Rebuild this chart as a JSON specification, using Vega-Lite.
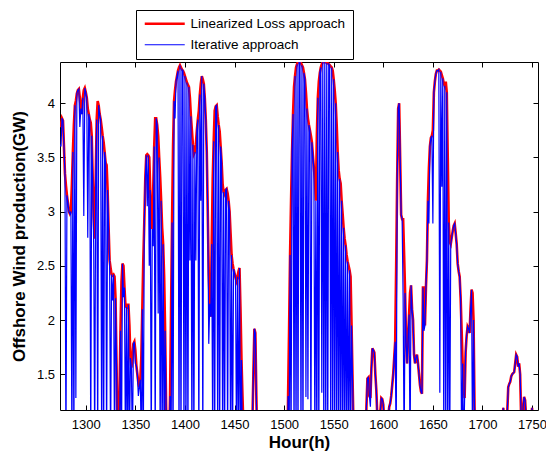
{
"$schema": "https://vega.github.io/schema/vega-lite/v6.json",
"width": 478, "height": 348,
"autosize": "none",
"padding": {"left": 60, "top": 62, "right": 8, "bottom": 41},
"background": "white",
"config": {
 "font": "Liberation Sans",
 "view": {"stroke": "black", "strokeWidth": 1},
 "axis": {"domain": false, "grid": false, "ticks": true, "tickColor": "black", "tickSize": -5, "tickWidth": 1, "labelColor": "black", "labelFontSize": 13, "labelFont": "Liberation Sans", "titleColor": "black", "titleFont": "Liberation Sans", "titleFontSize": 17, "titleFontWeight": "bold"}
},
"data": {"values": [
{"h":1274,"r":3.78,"b":3.62},{"h":1275,"r":3.80,"b":3.60},{"h":1276,"r":3.86,"b":3.86},{"h":1277,"r":3.84,"b":3.84},{"h":1278,"r":3.60,"b":3.60},{"h":1279,"r":3.35,"b":3.35},{"h":1280,"r":3.24,"b":0.8},{"h":1281,"r":3.15,"b":3.15},{"h":1282,"r":3.08,"b":3.08},{"h":1283,"r":3.00,"b":3.00},{"h":1284,"r":2.98,"b":2.98},{"h":1285,"r":3.00,"b":3.00},{"h":1286,"r":3.25,"b":0.8},{"h":1287,"r":3.55,"b":3.55},{"h":1288,"r":3.80,"b":0.8},{"h":1289,"r":3.98,"b":3.98},{"h":1290,"r":4.02,"b":1.28},{"h":1291,"r":4.09,"b":4.09},{"h":1292,"r":4.12,"b":4.12},{"h":1293,"r":4.13,"b":4.13},{"h":1294,"r":4.05,"b":3.78},{"h":1295,"r":3.95,"b":3.95},{"h":1296,"r":3.90,"b":3.90},{"h":1297,"r":4.05,"b":4.05},{"h":1298,"r":4.12,"b":2.96},{"h":1299,"r":4.14,"b":4.14},
{"h":1300,"r":4.10,"b":4.10},{"h":1301,"r":4.05,"b":4.05},{"h":1302,"r":3.95,"b":2.76},{"h":1303,"r":3.90,"b":3.90},{"h":1304,"r":3.85,"b":3.85},{"h":1305,"r":3.82,"b":0.8},{"h":1306,"r":3.70,"b":3.70},{"h":1307,"r":3.30,"b":3.30},{"h":1308,"r":2.95,"b":2.67},{"h":1309,"r":2.75,"b":0.8},{"h":1310,"r":3.30,"b":3.30},{"h":1311,"r":3.85,"b":3.85},{"h":1312,"r":4.02,"b":0.8},{"h":1313,"r":3.98,"b":3.98},{"h":1314,"r":3.90,"b":3.90},{"h":1315,"r":3.85,"b":3.85},{"h":1316,"r":3.78,"b":0.8},{"h":1317,"r":3.70,"b":3.70},{"h":1318,"r":3.64,"b":0.8},{"h":1319,"r":3.55,"b":3.55},{"h":1320,"r":3.45,"b":3.45},{"h":1321,"r":3.43,"b":0.8},{"h":1322,"r":3.20,"b":3.20},{"h":1323,"r":2.85,"b":2.85},{"h":1324,"r":2.55,"b":2.55},{"h":1325,"r":2.48,"b":0.8},{"h":1326,"r":2.42,"b":2.42},{"h":1327,"r":2.41,"b":2.18},{"h":1328,"r":2.42,"b":2.42},{"h":1329,"r":2.40,"b":0.8},
{"h":1330,"r":2.20,"b":2.20},{"h":1331,"r":1.60,"b":1.60},{"h":1332,"r":1.00,"b":0.8},{"h":1333,"r":0.90,"b":0.9},{"h":1334,"r":1.30,"b":0.8},{"h":1335,"r":1.90,"b":1.90},{"h":1336,"r":2.35,"b":0.8},{"h":1337,"r":2.52,"b":2.52},{"h":1338,"r":2.50,"b":2.21},{"h":1339,"r":2.30,"b":2.30},{"h":1340,"r":2.13,"b":0.8},{"h":1341,"r":2.12,"b":2.12},{"h":1342,"r":2.14,"b":0.8},{"h":1343,"r":2.14,"b":2.14},{"h":1344,"r":1.95,"b":0.8},{"h":1345,"r":1.65,"b":1.65},{"h":1346,"r":1.56,"b":1.56},{"h":1347,"r":1.65,"b":0.8},{"h":1348,"r":1.78,"b":1.78},{"h":1349,"r":1.80,"b":1.80},{"h":1350,"r":1.72,"b":1.60},{"h":1351,"r":1.58,"b":1.58},{"h":1352,"r":1.50,"b":1.50},{"h":1353,"r":1.42,"b":1.30},{"h":1354,"r":1.38,"b":1.38},{"h":1355,"r":1.45,"b":1.45},{"h":1356,"r":1.65,"b":0.8},{"h":1357,"r":2.10,"b":2.10},{"h":1358,"r":2.55,"b":0.8},{"h":1359,"r":2.90,"b":2.90},
{"h":1360,"r":3.30,"b":3.30},{"h":1361,"r":3.52,"b":3.52},{"h":1362,"r":3.53,"b":3.05},{"h":1363,"r":3.52,"b":3.52},{"h":1364,"r":3.50,"b":2.50},{"h":1365,"r":3.20,"b":3.20},{"h":1366,"r":2.95,"b":0.8},{"h":1367,"r":2.84,"b":2.84},{"h":1368,"r":3.20,"b":2.68},{"h":1369,"r":3.60,"b":3.60},{"h":1370,"r":3.86,"b":0.8},{"h":1371,"r":3.86,"b":3.86},{"h":1372,"r":3.80,"b":3.80},{"h":1373,"r":3.70,"b":2.06},{"h":1374,"r":3.50,"b":3.50},{"h":1375,"r":3.32,"b":0.8},{"h":1376,"r":3.10,"b":3.10},{"h":1377,"r":2.85,"b":0.8},{"h":1378,"r":2.70,"b":2.70},{"h":1379,"r":2.40,"b":0.8},{"h":1380,"r":1.90,"b":1.90},{"h":1381,"r":1.20,"b":1.20},{"h":1382,"r":0.80,"b":0.80},{"h":1383,"r":0.60,"b":0.60},{"h":1384,"r":0.80,"b":0.80},{"h":1385,"r":1.30,"b":1.30},{"h":1386,"r":2.10,"b":0.8},{"h":1387,"r":2.90,"b":2.90},{"h":1388,"r":3.60,"b":0.8},{"h":1389,"r":4.02,"b":4.02},
{"h":1390,"r":4.12,"b":3.86},{"h":1391,"r":4.20,"b":4.20},{"h":1392,"r":4.25,"b":4.25},{"h":1393,"r":4.30,"b":4.30},{"h":1394,"r":4.33,"b":0.8},{"h":1395,"r":4.35,"b":4.35},{"h":1396,"r":4.33,"b":0.8},{"h":1397,"r":4.31,"b":4.31},{"h":1398,"r":4.30,"b":4.30},{"h":1399,"r":4.28,"b":0.8},{"h":1400,"r":4.25,"b":4.25},{"h":1401,"r":4.22,"b":0.8},{"h":1402,"r":4.19,"b":4.19},{"h":1403,"r":4.17,"b":0.8},{"h":1404,"r":4.15,"b":4.15},{"h":1405,"r":4.05,"b":2.55},{"h":1406,"r":3.88,"b":3.88},{"h":1407,"r":3.75,"b":0.8},{"h":1408,"r":3.62,"b":3.62},{"h":1409,"r":3.53,"b":0.8},{"h":1410,"r":3.55,"b":3.55},{"h":1411,"r":3.62,"b":2.55},{"h":1412,"r":3.75,"b":3.75},{"h":1413,"r":3.85,"b":3.85},{"h":1414,"r":3.93,"b":0.8},{"h":1415,"r":4.08,"b":4.08},{"h":1416,"r":4.18,"b":3.10},{"h":1417,"r":4.25,"b":4.25},{"h":1418,"r":4.22,"b":0.8},{"h":1419,"r":4.18,"b":4.18},
{"h":1420,"r":4.05,"b":4.05},{"h":1421,"r":3.85,"b":3.85},{"h":1422,"r":3.55,"b":3.55},{"h":1423,"r":3.00,"b":3.00},{"h":1424,"r":2.42,"b":1.78},{"h":1425,"r":2.15,"b":2.15},{"h":1426,"r":2.03,"b":2.03},{"h":1427,"r":2.70,"b":2.70},{"h":1428,"r":3.30,"b":0.8},{"h":1429,"r":3.65,"b":3.65},{"h":1430,"r":3.93,"b":0.8},{"h":1431,"r":3.97,"b":3.97},{"h":1432,"r":3.98,"b":3.98},{"h":1433,"r":3.88,"b":0.8},{"h":1434,"r":3.80,"b":3.80},{"h":1435,"r":3.74,"b":0.8},{"h":1436,"r":3.60,"b":3.60},{"h":1437,"r":3.45,"b":3.45},{"h":1438,"r":3.25,"b":0.8},{"h":1439,"r":3.18,"b":3.18},{"h":1440,"r":3.16,"b":0.8},{"h":1441,"r":3.20,"b":3.20},{"h":1442,"r":3.21,"b":3.21},{"h":1443,"r":3.17,"b":0.8},{"h":1444,"r":3.10,"b":3.10},{"h":1445,"r":3.00,"b":3.00},{"h":1446,"r":2.80,"b":0.8},{"h":1447,"r":2.60,"b":2.60},{"h":1448,"r":2.52,"b":0.8},{"h":1449,"r":2.47,"b":2.47},
{"h":1450,"r":2.43,"b":2.43},{"h":1451,"r":2.39,"b":2.39},{"h":1452,"r":2.36,"b":0.8},{"h":1453,"r":2.40,"b":2.40},{"h":1454,"r":2.45,"b":0.8},{"h":1455,"r":2.48,"b":2.48},{"h":1456,"r":2.10,"b":0.8},{"h":1457,"r":1.63,"b":1.63},{"h":1458,"r":1.30,"b":0.8},{"h":1459,"r":1.00,"b":1.00},{"h":1460,"r":0.80,"b":0.80},{"h":1461,"r":0.6,"b":0.6},{"h":1462,"r":0.6,"b":0.6},{"h":1463,"r":0.6,"b":0.6},{"h":1464,"r":0.6,"b":0.6},{"h":1465,"r":0.6,"b":0.6},{"h":1466,"r":0.6,"b":0.6},{"h":1467,"r":0.70,"b":0.70},{"h":1468,"r":1.05,"b":1.05},{"h":1469,"r":1.50,"b":1.50},{"h":1470,"r":1.92,"b":1.92},{"h":1471,"r":1.88,"b":1.88},{"h":1472,"r":1.30,"b":1.30},{"h":1473,"r":0.80,"b":0.80},{"h":1474,"r":0.6,"b":0.6},{"h":1475,"r":0.6,"b":0.6},{"h":1476,"r":0.6,"b":0.6},{"h":1477,"r":0.6,"b":0.6},{"h":1478,"r":0.6,"b":0.6},{"h":1479,"r":0.6,"b":0.6},
{"h":1480,"r":0.6,"b":0.6},{"h":1481,"r":0.6,"b":0.6},{"h":1482,"r":0.6,"b":0.6},{"h":1483,"r":0.6,"b":0.6},{"h":1484,"r":0.6,"b":0.6},{"h":1485,"r":0.6,"b":0.6},{"h":1486,"r":0.6,"b":0.6},{"h":1487,"r":0.6,"b":0.6},{"h":1488,"r":0.6,"b":0.6},{"h":1489,"r":0.6,"b":0.6},{"h":1490,"r":0.6,"b":0.6},{"h":1491,"r":0.6,"b":0.6},{"h":1492,"r":0.6,"b":0.6},{"h":1493,"r":0.6,"b":0.6},{"h":1494,"r":0.6,"b":0.6},{"h":1495,"r":0.6,"b":0.6},{"h":1496,"r":0.6,"b":0.6},{"h":1497,"r":0.6,"b":0.6},{"h":1498,"r":0.6,"b":0.6},{"h":1499,"r":0.6,"b":0.6},{"h":1500,"r":0.6,"b":0.6},{"h":1501,"r":0.6,"b":0.6},{"h":1502,"r":0.6,"b":0.6},{"h":1503,"r":0.6,"b":0.6},{"h":1504,"r":1.30,"b":1.30},{"h":1505,"r":1.90,"b":0.8},{"h":1506,"r":2.60,"b":2.60},{"h":1507,"r":3.10,"b":0.8},{"h":1508,"r":3.55,"b":3.55},{"h":1509,"r":3.90,"b":3.90},
{"h":1510,"r":4.15,"b":0.8},{"h":1511,"r":4.25,"b":4.25},{"h":1512,"r":4.33,"b":0.8},{"h":1513,"r":4.36,"b":4.36},{"h":1514,"r":4.38,"b":0.8},{"h":1515,"r":4.38,"b":4.38},{"h":1516,"r":4.38,"b":4.38},{"h":1517,"r":4.37,"b":0.8},{"h":1518,"r":4.35,"b":4.35},{"h":1519,"r":4.33,"b":0.8},{"h":1520,"r":4.28,"b":4.28},{"h":1521,"r":4.22,"b":4.22},{"h":1522,"r":4.10,"b":1.29},{"h":1523,"r":3.95,"b":3.95},{"h":1524,"r":3.86,"b":1.27},{"h":1525,"r":3.80,"b":3.80},{"h":1526,"r":3.75,"b":3.75},{"h":1527,"r":3.70,"b":0.8},{"h":1528,"r":3.64,"b":3.64},{"h":1529,"r":3.52,"b":3.52},{"h":1530,"r":3.40,"b":3.40},{"h":1531,"r":3.30,"b":0.8},{"h":1532,"r":3.10,"b":3.10},{"h":1533,"r":3.70,"b":0.8},{"h":1534,"r":4.05,"b":4.05},{"h":1535,"r":4.20,"b":0.8},{"h":1536,"r":4.28,"b":4.28},{"h":1537,"r":4.33,"b":4.33},{"h":1538,"r":4.36,"b":1.33},{"h":1539,"r":4.38,"b":4.38},
{"h":1540,"r":4.38,"b":0.8},{"h":1541,"r":4.38,"b":4.38},{"h":1542,"r":4.38,"b":0.8},{"h":1543,"r":4.37,"b":4.37},{"h":1544,"r":4.37,"b":0.8},{"h":1545,"r":4.36,"b":4.36},{"h":1546,"r":4.35,"b":4.35},{"h":1547,"r":4.34,"b":0.8},{"h":1548,"r":4.33,"b":4.33},{"h":1549,"r":4.30,"b":0.8},{"h":1550,"r":4.22,"b":4.22},{"h":1551,"r":4.12,"b":0.8},{"h":1552,"r":4.00,"b":4.00},{"h":1553,"r":3.80,"b":0.8},{"h":1554,"r":3.55,"b":3.55},{"h":1555,"r":3.38,"b":0.8},{"h":1556,"r":3.30,"b":3.30},{"h":1557,"r":3.26,"b":0.8},{"h":1558,"r":3.10,"b":3.10},{"h":1559,"r":2.98,"b":0.8},{"h":1560,"r":2.85,"b":2.85},{"h":1561,"r":2.75,"b":0.8},{"h":1562,"r":2.69,"b":2.69},{"h":1563,"r":2.60,"b":0.8},{"h":1564,"r":2.54,"b":2.54},{"h":1565,"r":2.50,"b":0.8},{"h":1566,"r":2.46,"b":2.46},{"h":1567,"r":2.40,"b":0.8},{"h":1568,"r":1.95,"b":1.95},{"h":1569,"r":1.45,"b":1.45},
{"h":1570,"r":1.00,"b":1.00},{"h":1571,"r":0.70,"b":0.70},{"h":1572,"r":0.6,"b":0.6},{"h":1573,"r":0.6,"b":0.6},{"h":1574,"r":0.6,"b":0.6},{"h":1575,"r":0.6,"b":0.6},{"h":1576,"r":0.6,"b":0.6},{"h":1577,"r":0.6,"b":0.6},{"h":1578,"r":0.6,"b":0.6},{"h":1579,"r":0.6,"b":0.6},{"h":1580,"r":0.6,"b":0.6},{"h":1581,"r":0.6,"b":0.6},{"h":1582,"r":0.80,"b":0.80},{"h":1583,"r":1.20,"b":1.20},{"h":1584,"r":1.46,"b":1.46},{"h":1585,"r":1.47,"b":1.47},{"h":1586,"r":1.30,"b":1.30},{"h":1587,"r":1.28,"b":1.20},{"h":1588,"r":1.55,"b":1.55},{"h":1589,"r":1.74,"b":1.74},{"h":1590,"r":1.72,"b":1.72},{"h":1591,"r":1.70,"b":1.70},{"h":1592,"r":1.50,"b":1.50},{"h":1593,"r":1.35,"b":1.35},{"h":1594,"r":1.10,"b":1.10},{"h":1595,"r":0.90,"b":0.90},{"h":1596,"r":0.90,"b":0.90},{"h":1597,"r":1.15,"b":1.15},{"h":1598,"r":1.28,"b":1.28},{"h":1599,"r":1.27,"b":1.27},
{"h":1600,"r":1.22,"b":1.22},{"h":1601,"r":1.05,"b":1.05},{"h":1602,"r":0.90,"b":0.90},{"h":1603,"r":0.90,"b":0.90},{"h":1604,"r":0.95,"b":0.95},{"h":1605,"r":1.10,"b":1.10},{"h":1606,"r":1.20,"b":1.20},{"h":1607,"r":1.23,"b":1.23},{"h":1608,"r":1.30,"b":1.30},{"h":1609,"r":1.40,"b":1.40},{"h":1610,"r":1.50,"b":1.50},{"h":1611,"r":1.65,"b":1.65},{"h":1612,"r":1.80,"b":1.80},{"h":1613,"r":2.50,"b":0.8},{"h":1614,"r":3.30,"b":3.30},{"h":1615,"r":3.95,"b":3.95},{"h":1616,"r":4.00,"b":4.00},{"h":1617,"r":3.50,"b":3.50},{"h":1618,"r":2.97,"b":2.97},{"h":1619,"r":2.93,"b":2.93},{"h":1620,"r":2.93,"b":2.20},{"h":1621,"r":2.60,"b":0.8},{"h":1622,"r":2.25,"b":2.25},{"h":1623,"r":1.80,"b":1.80},{"h":1624,"r":1.60,"b":1.60},{"h":1625,"r":1.85,"b":1.85},{"h":1626,"r":2.05,"b":2.05},{"h":1627,"r":2.25,"b":0.8},{"h":1628,"r":2.32,"b":2.32},{"h":1629,"r":2.10,"b":2.10},
{"h":1630,"r":2.00,"b":2.00},{"h":1631,"r":1.68,"b":1.68},{"h":1632,"r":1.60,"b":1.60},{"h":1633,"r":1.65,"b":1.65},{"h":1634,"r":1.68,"b":1.68},{"h":1635,"r":1.60,"b":1.60},{"h":1636,"r":1.50,"b":1.50},{"h":1637,"r":1.40,"b":1.40},{"h":1638,"r":1.34,"b":1.34},{"h":1639,"r":1.32,"b":1.32},{"h":1640,"r":2.30,"b":2.30},{"h":1641,"r":2.30,"b":1.90},{"h":1642,"r":1.95,"b":1.95},{"h":1643,"r":2.30,"b":2.30},{"h":1644,"r":2.55,"b":2.55},{"h":1645,"r":3.10,"b":3.10},{"h":1646,"r":3.40,"b":2.89},{"h":1647,"r":3.60,"b":3.60},{"h":1648,"r":3.68,"b":3.68},{"h":1649,"r":3.70,"b":3.70},{"h":1650,"r":3.75,"b":2.89},{"h":1651,"r":4.10,"b":4.10},{"h":1652,"r":4.20,"b":4.20},{"h":1653,"r":4.27,"b":4.27},{"h":1654,"r":4.30,"b":4.30},{"h":1655,"r":4.30,"b":4.30},{"h":1656,"r":4.31,"b":4.31},{"h":1657,"r":4.30,"b":1.33},{"h":1658,"r":4.29,"b":4.29},{"h":1659,"r":4.26,"b":3.23},
{"h":1660,"r":4.23,"b":4.23},{"h":1661,"r":4.18,"b":0.8},{"h":1662,"r":4.16,"b":4.16},{"h":1663,"r":4.20,"b":0.8},{"h":1664,"r":4.10,"b":4.10},{"h":1665,"r":3.50,"b":0.8},{"h":1666,"r":2.90,"b":2.90},{"h":1667,"r":2.72,"b":0.8},{"h":1668,"r":2.70,"b":2.70},{"h":1669,"r":2.76,"b":2.76},{"h":1670,"r":2.82,"b":2.82},{"h":1671,"r":2.87,"b":2.87},{"h":1672,"r":2.89,"b":2.89},{"h":1673,"r":2.80,"b":2.80},{"h":1674,"r":2.70,"b":2.70},{"h":1675,"r":2.52,"b":2.52},{"h":1676,"r":2.45,"b":2.45},{"h":1677,"r":2.40,"b":2.40},{"h":1678,"r":2.20,"b":2.20},{"h":1679,"r":1.90,"b":0.8},{"h":1680,"r":1.60,"b":1.60},{"h":1681,"r":1.40,"b":0.8},{"h":1682,"r":1.28,"b":1.28},{"h":1683,"r":1.70,"b":1.70},{"h":1684,"r":1.85,"b":1.85},{"h":1685,"r":1.94,"b":1.94},{"h":1686,"r":1.92,"b":1.92},{"h":1687,"r":1.88,"b":1.88},{"h":1688,"r":2.10,"b":2.10},{"h":1689,"r":2.28,"b":2.28},
{"h":1690,"r":2.25,"b":0.8},{"h":1691,"r":2.00,"b":2.00},{"h":1692,"r":1.20,"b":1.20},{"h":1693,"r":0.80,"b":0.80},{"h":1694,"r":0.6,"b":0.6},{"h":1695,"r":0.6,"b":0.6},{"h":1696,"r":0.6,"b":0.6},{"h":1697,"r":0.6,"b":0.6},{"h":1698,"r":0.6,"b":0.6},{"h":1699,"r":0.6,"b":0.6},{"h":1700,"r":0.6,"b":0.6},{"h":1701,"r":0.6,"b":0.6},{"h":1702,"r":0.6,"b":0.6},{"h":1703,"r":0.6,"b":0.6},{"h":1704,"r":0.6,"b":0.6},{"h":1705,"r":0.6,"b":0.6},{"h":1706,"r":0.6,"b":0.6},{"h":1707,"r":0.6,"b":0.6},{"h":1708,"r":0.6,"b":0.6},{"h":1709,"r":0.6,"b":0.6},{"h":1710,"r":0.6,"b":0.6},{"h":1711,"r":0.6,"b":0.6},{"h":1712,"r":0.6,"b":0.6},{"h":1713,"r":0.6,"b":0.6},{"h":1714,"r":0.6,"b":0.6},{"h":1715,"r":0.6,"b":0.6},{"h":1716,"r":0.6,"b":0.6},{"h":1717,"r":0.6,"b":0.6},{"h":1718,"r":0.6,"b":0.6},{"h":1719,"r":0.6,"b":0.6},
{"h":1720,"r":0.90,"b":0.90},{"h":1721,"r":1.19,"b":1.19},{"h":1722,"r":1.05,"b":1.05},{"h":1723,"r":0.80,"b":0.80},{"h":1724,"r":0.85,"b":0.85},{"h":1725,"r":1.15,"b":1.15},{"h":1726,"r":1.38,"b":1.38},{"h":1727,"r":1.41,"b":1.41},{"h":1728,"r":1.43,"b":1.43},{"h":1729,"r":1.48,"b":1.48},{"h":1730,"r":1.50,"b":1.50},{"h":1731,"r":1.51,"b":1.51},{"h":1732,"r":1.52,"b":1.52},{"h":1733,"r":1.60,"b":1.60},{"h":1734,"r":1.68,"b":1.68},{"h":1735,"r":1.66,"b":1.66},{"h":1736,"r":1.57,"b":1.57},{"h":1737,"r":1.60,"b":1.60},{"h":1738,"r":1.50,"b":1.50},{"h":1739,"r":1.10,"b":1.10},{"h":1740,"r":0.90,"b":0.90},{"h":1741,"r":1.20,"b":1.20},{"h":1742,"r":1.29,"b":1.29},{"h":1743,"r":1.26,"b":1.26},{"h":1744,"r":1.10,"b":1.10},{"h":1745,"r":0.90,"b":0.90},{"h":1746,"r":0.85,"b":0.85},{"h":1747,"r":0.85,"b":0.85},{"h":1748,"r":0.90,"b":0.90},{"h":1749,"r":1.05,"b":1.05},
{"h":1750,"r":1.19,"b":1.19},{"h":1751,"r":1.00,"b":1.00},{"h":1752,"r":0.85,"b":0.85},{"h":1753,"r":0.80,"b":0.80},{"h":1754,"r":0.75,"b":0.75},{"h":1755,"r":0.70,"b":0.70},{"h":1756,"r":0.70,"b":0.70}
]},
"layer": [
 {"layer": [
  {"mark": {"type": "line", "clip": true},
   "encoding": {
    "x": {"field": "h", "type": "quantitative", "scale": {"domain": [1274, 1756], "nice": false, "zero": false}, "axis": {"values": [1300,1350,1400,1450,1500,1550,1600,1650,1700,1750], "format": "d", "title": "Hour(h)", "labelPadding": 13, "titlePadding": 3}},
    "y": {"field": "r", "type": "quantitative", "scale": {"domain": [1.17, 4.38], "nice": false, "zero": false}, "axis": {"values": [1.5,2,2.5,3,3.5,4], "format": "~g", "title": "Offshore Wind production(GW)", "labelPadding": 10.5, "titlePadding": 8}},
    "color": {"datum": "Linearized Loss approach", "type": "nominal", "scale": {"domain": ["Linearized Loss approach", "Iterative approach"], "range": ["#ff0000", "#0000ff"]},
      "legend": {"orient": "none", "legendX": 76, "legendY": -52, "title": null, "strokeColor": "black", "fillColor": "white", "padding": 7, "rowPadding": 6, "symbolType": "M-1,0H7", "symbolSize": 100, "labelFontSize": 13.5, "labelFont": "Liberation Sans", "labelColor": "black", "labelOffset": 34}},
    "strokeWidth": {"datum": "Linearized Loss approach", "type": "nominal", "scale": {"type": "point", "padding": 0, "domain": ["Linearized Loss approach", "Iterative approach"], "range": [2.6, 1.2]}}
   }},
  {"mark": {"type": "line", "clip": true},
   "encoding": {
    "x": {"field": "h", "type": "quantitative"},
    "y": {"field": "b", "type": "quantitative"},
    "color": {"datum": "Iterative approach", "type": "nominal"},
    "strokeWidth": {"datum": "Iterative approach", "type": "nominal"}
   }}
 ]},
 {"mark": {"type": "point", "opacity": 0},
  "encoding": {
   "x": {"field": "h", "type": "quantitative", "scale": {"domain": [1274, 1756], "nice": false, "zero": false}, "axis": {"orient": "top", "values": [1300,1350,1400,1450,1500,1550,1600,1650,1700,1750], "labels": false, "title": null}},
   "y": {"field": "r", "type": "quantitative", "scale": {"domain": [1.17, 4.38], "nice": false, "zero": false}, "axis": {"orient": "right", "values": [1.5,2,2.5,3,3.5,4], "labels": false, "title": null}}
  }}
],
"resolve": {"scale": {"x": "independent", "y": "independent"}}
}
